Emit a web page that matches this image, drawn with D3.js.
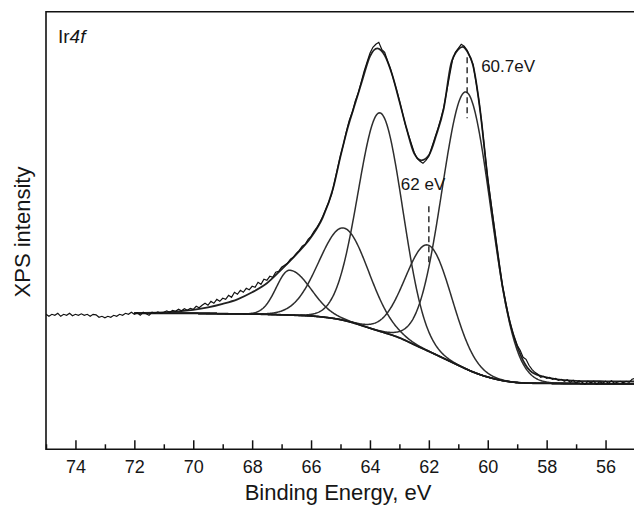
<!DOCTYPE html>
<html><head><meta charset="utf-8">
<script src="https://cdn.jsdelivr.net/npm/d3@7"></script>
<style>
body{margin:0;background:#fff}
svg{display:block}
text{font-family:"Liberation Sans",Arial,Helvetica,sans-serif;fill:#161616}
</style>
</head><body>
<svg id="chart" width="634" height="505"></svg>
<script>
// ---------------- data ----------------
const xTicksMajor = [74, 72, 70, 68, 66, 64, 62, 60, 58, 56];
const xTicksMinor = [75, 73, 71, 69, 67, 65, 63, 61, 59, 57, 55];
const xTitle = "Binding Energy, eV";
const yTitle = "XPS intensity";

// raw spectrum, 75.0 eV down to 55.0 eV in 0.1 eV steps
const rawStart = 75.0, rawStep = 0.1;
const rawIntensity = [
  135,133,135,134,136,133,135,134,136,133.5,
  135,134,135.5,134,135,133,135,134.5,132,133,
  131.5,133,132,134,133,135,134,136,135,137,
  135,136.5,134,137,135.5,134,137,136,137.5,136,
  137,138.5,137,139,138,140,138.5,140.5,139,141,
  140,143,141.5,144,146,144,148,146,150,148,
  151,150,154,152,157,155,159,157,161,159.5,
  163,162,167,165,170,169,173,172,177,178,
  182,184,186,190,192,196,199,203,205,210,
  213,218,222,227,233,240,247,255,268,281,
  294,305,318,329,337,348,356,367,378,387,
  396,402,405,407,400,397,388,380,370,360,
  349,337,325,315,306,297,291,288,286,289,
  293,302,311,320,330,341,357,373,389,397,
  401,405,403,399,392,385,368,349,325,298,
  271,249,227,205,184,164,149,134,122,112,
  104,99,92,90,84,80,77,75,72,73,
  71,72,70,71,69,70,68,69.5,67,69,
  66,68.5,67,65,68,66.5,68,65,67.5,66,
  68,66,68.5,66,67,68,66.5,68,67,70,
  71
];

// fitted envelope
const fitEnergy = [72.0,71.0,70.0,69.5,69.0,68.5,68.0,67.5,67.0,66.5,66.0,65.6,65.25,65.0,64.75,64.5,64.25,64.0,63.75,63.5,63.25,63.0,62.75,62.5,62.25,62.0,61.75,61.5,61.25,61.0,60.85,60.7,60.5,60.25,60.0,59.75,59.5,59.25,59.0,58.75,58.5,58.0,57.5,57.0,56.0,55.0];
const fitIntensity = [136.5,137,139.5,142,145.5,150,157,166,180,195,212,232,261,293,322,346,370,393,401,394,375,348,320,296,289,294,314,340,385,400,402.5,398,384,337,270,215,163,127,103,86,77,72,69.5,68.5,68,67.8];

// Shirley-type background, 72.0 eV down to 55.0 eV in 0.5 eV steps
const bgStart = 72.0, bgEnd = 55.0;
const bgIntensity = [136,136,136,136,136,135.8,135.6,135.4,135.2,135,134.5,134,133.5,132,130,126,121,116.5,112,104.5,98,91,84,77,72,68.5,66.5,66,66,65.8,65.7,65.6,65.5,65.5,65.5];

// fitted components (on background)
const peakCenter    = [60.72, 63.65, 62.0, 64.88, 66.73];
const peakHeight    = [277, 218.5, 106, 92.3, 44.8];
const peakSigmaHigh = [0.83, 0.75, 0.78, 0.84, 0.45];
const peakSigmaLow  = [0.83, 0.75, 0.78, 0.84, 0.72];

// annotations
const markerEnergy = [60.7, 62.0];
const markerTop    = [392, 243];
const markerBottom = [331, 186];
const markerLabels = ["60.7eV", "62 eV"];

// ---------------- chart ----------------
const svg = d3.select("#chart");
const L = 46, R = 635, T = 11.7, B = 449.3;
const x = d3.scaleLinear().domain([75, 55]).range([L, R]);
const y = d3.scaleLinear().domain([0, B - T]).range([B, T]);

const defs = svg.append("defs");
defs.append("clipPath").attr("id", "clip").append("rect")
  .attr("x", L).attr("y", T).attr("width", R - L).attr("height", B - T);

const plot = svg.append("g").attr("clip-path", "url(#clip)");

const bgInterp = d3.interpolateBasis(bgIntensity);
const bgAt = E => bgInterp((bgStart - E) / (bgStart - bgEnd));
const peakAt = (i, E) => {
  const s = E >= peakCenter[i] ? peakSigmaHigh[i] : peakSigmaLow[i];
  const d = (E - peakCenter[i]) / s;
  return peakHeight[i] * Math.exp(-0.5 * d * d);
};

const grid = d3.range(bgStart, bgEnd - 0.001, -0.02);
const line = d3.line().x(d => x(d[0])).y(d => y(d[1]));

// components
peakCenter.forEach((c, i) => {
  plot.append("path")
    .attr("d", line(grid.map(E => [E, bgAt(E) + peakAt(i, E)])))
    .attr("fill", "none").attr("stroke", "#2e2e2e").attr("stroke-width", 1.5);
});

// background
plot.append("path")
  .attr("d", line(grid.map(E => [E, bgAt(E)])))
  .attr("fill", "none").attr("stroke", "#1a1a1a").attr("stroke-width", 1.8);

// envelope
plot.append("path")
  .attr("d", d3.line().x(d => x(d[0])).y(d => y(d[1])).curve(d3.curveMonotoneX)(fitEnergy.map((E, i) => [E, fitIntensity[i]])))
  .attr("fill", "none").attr("stroke", "#222").attr("stroke-width", 1.8);

// raw data
plot.append("path")
  .attr("d", line(rawIntensity.map((v, i) => [rawStart - i * rawStep, v])))
  .attr("fill", "none").attr("stroke", "#111").attr("stroke-width", 1.2);

// markers
markerEnergy.forEach((E, i) => {
  svg.append("line")
    .attr("x1", x(E)).attr("x2", x(E))
    .attr("y1", y(markerTop[i])).attr("y2", y(markerBottom[i]))
    .attr("stroke", "#222").attr("stroke-width", 1.4)
    .attr("stroke-dasharray", "6,4");
});
svg.append("text").attr("x", x(markerEnergy[0]) + 14).attr("y", y(markerTop[0]) + 15)
  .attr("font-size", 17).text(markerLabels[0]);
svg.append("text").attr("x", x(markerEnergy[1]) - 28).attr("y", y(markerTop[1]) - 16)
  .attr("font-size", 17).text(markerLabels[1]);

// axes
const axMajor = svg.append("g").attr("transform", `translate(0,${B})`)
  .call(d3.axisBottom(x).tickValues(xTicksMajor).tickSizeInner(-9).tickSizeOuter(0).tickPadding(11).tickFormat(d3.format("d")));
axMajor.select(".domain").remove();
axMajor.selectAll(".tick line").attr("stroke", "#111").attr("stroke-width", 1.5);
axMajor.selectAll(".tick text").attr("font-size", 18).attr("fill", "#161616")
  .attr("font-family", "Liberation Sans, Arial, sans-serif");

const axMinor = svg.append("g").attr("transform", `translate(0,${B})`)
  .call(d3.axisBottom(x).tickValues(xTicksMinor).tickSizeInner(-5).tickSizeOuter(0).tickFormat(""));
axMinor.select(".domain").remove();
axMinor.selectAll(".tick line").attr("stroke", "#111").attr("stroke-width", 1.5);

// frame (left, top, bottom)
svg.append("path")
  .attr("d", `M${R},${T}H${L}V${B}H${R}`)
  .attr("fill", "none").attr("stroke", "#111").attr("stroke-width", 1.6);

// titles
svg.append("text").attr("x", 338).attr("y", 500)
  .attr("text-anchor", "middle").attr("font-size", 22).text(xTitle);
svg.append("text").attr("transform", "translate(22,232) rotate(-90)")
  .attr("text-anchor", "middle").attr("dominant-baseline", "central")
  .attr("font-size", 22).text(yTitle);

// panel label
const lab = svg.append("text").attr("x", 58).attr("y", 43).attr("font-size", 19);
lab.append("tspan").text("Ir");
lab.append("tspan").attr("font-style", "italic").text("4f");
</script>
</body></html>
